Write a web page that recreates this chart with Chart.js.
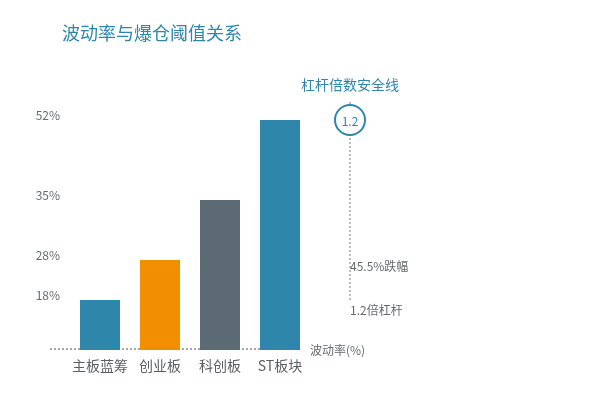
<!DOCTYPE html>
<html>
<head>
<meta charset="utf-8">
<script src="https://cdn.jsdelivr.net/npm/chart.js@4/dist/chart.umd.min.js"></script>
<style>
  html, body { margin: 0; padding: 0; background: #fff; }
  #wrap { width: 600px; height: 400px; }
</style>
</head>
<body>
<div id="wrap"><canvas id="c" width="600" height="400"></canvas></div>
<script>
// ---- data ----
const categories = ['主板蓝筹', '创业板', '科创板', 'ST板块'];
const volatility = [18, 28, 35, 52];          // 波动率 (%)
const yTickValues = [18, 28, 35, 52];
const barColors = ['#2e86ab', '#f18f01', '#5c6b73', '#2e86ab'];
const titleText = '波动率与爆仓阈值关系';
const xAxisName = '波动率(%)';
const leverageTitle = '杠杆倍数安全线';
const leverageValue = '1.2';
const dropLabel = '45.5%跌幅';
const leverageLabel = '1.2倍杠杆';

// visual (non-proportional) level of each stop on the value axis, as share of axis height
const axisStops = [0, 18, 28, 35, 52];
const axisLevels = [0, 0.2174, 0.3913, 0.6522, 1];

const FONT = '"Noto Sans CJK SC", "Noto Sans", sans-serif';
const TEAL = '#2e86ab';
const GRAY_TEXT = '#666a6e';

class SteppedScale extends Chart.LinearScale {
  _toDecimal(value) {
    const s = axisStops, f = axisLevels;
    let i = 0;
    while (i < s.length - 2 && value > s[i + 1]) i++;
    return f[i] + (value - s[i]) / (s[i + 1] - s[i]) * (f[i + 1] - f[i]);
  }
  getPixelForValue(value) {
    if (value === null || value === undefined || isNaN(value)) return NaN;
    return this.getPixelForDecimal(this._toDecimal(value));
  }
  getValueForPixel(pixel) {
    const d = this.getDecimalForPixel(pixel);
    const s = axisStops, f = axisLevels;
    let i = 0;
    while (i < f.length - 2 && d > f[i + 1]) i++;
    return s[i] + (d - f[i]) / (f[i + 1] - f[i]) * (s[i + 1] - s[i]);
  }
}
SteppedScale.id = 'stepped';
SteppedScale.defaults = {};
Chart.register(SteppedScale);

const decorPlugin = {
  id: 'decor',
  beforeDatasetsDraw(chart) {
    const { ctx, chartArea } = chart;
    ctx.save();
    // title
    ctx.fillStyle = TEAL;
    ctx.font = '18px ' + FONT;
    ctx.textAlign = 'left';
    ctx.textBaseline = 'middle';
    ctx.fillText(titleText, 62, 33);
    // dotted baseline
    ctx.strokeStyle = '#a6a6a6';
    ctx.lineWidth = 2;
    ctx.setLineDash([2, 2]);
    ctx.beginPath();
    ctx.moveTo(chartArea.left - 20, chartArea.bottom - 1);
    ctx.lineTo(chartArea.right - 10, chartArea.bottom - 1);
    ctx.stroke();
    ctx.restore();
  },
  afterDraw(chart) {
    const { ctx, chartArea } = chart;
    const y = chart.scales.y;
    const yTop = y.getPixelForValue(yTickValues[yTickValues.length - 1]);
    const yLow = y.getPixelForValue(yTickValues[0]);
    const cx = chartArea.right + 40;
    ctx.save();
    // dotted vertical line
    ctx.strokeStyle = '#a6a6a6';
    ctx.lineWidth = 1.5;
    ctx.setLineDash([2, 2]);
    ctx.beginPath();
    ctx.moveTo(cx, yTop - 18);
    ctx.lineTo(cx, yLow);
    ctx.stroke();
    ctx.setLineDash([]);
    // circle
    ctx.beginPath();
    ctx.arc(cx, yTop, 15, 0, Math.PI * 2);
    ctx.fillStyle = '#fff';
    ctx.fill();
    ctx.strokeStyle = TEAL;
    ctx.lineWidth = 2;
    ctx.stroke();
    ctx.fillStyle = TEAL;
    ctx.font = '12px ' + FONT;
    ctx.textAlign = 'center';
    ctx.textBaseline = 'middle';
    ctx.fillText(leverageValue, cx, yTop + 1);
    // heading
    ctx.font = '14px ' + FONT;
    ctx.fillText(leverageTitle, cx, yTop - 35);
    // side labels
    ctx.fillStyle = GRAY_TEXT;
    ctx.font = '12px ' + FONT;
    ctx.textAlign = 'left';
    ctx.fillText(dropLabel, cx, yLow - 34);
    ctx.fillText(leverageLabel, cx, yLow + 10);
    ctx.fillText(xAxisName, chartArea.right, chartArea.bottom);
    ctx.restore();
  }
};

new Chart(document.getElementById('c'), {
  type: 'bar',
  data: {
    labels: categories,
    datasets: [{
      data: volatility,
      backgroundColor: barColors,
      borderWidth: 0,
      barPercentage: 2 / 3,
      categoryPercentage: 1
    }]
  },
  options: {
    responsive: false,
    animation: false,
    layout: { padding: { left: 28, right: 290, top: 120, bottom: 0 } },
    plugins: {
      legend: { display: false },
      tooltip: { enabled: false },
      title: { display: false }
    },
    scales: {
      x: {
        grid: { display: false, drawTicks: false },
        border: { display: false },
        ticks: {
          color: '#5a5f63', font: { family: FONT, size: 14 }, padding: 7,
          maxRotation: 0, minRotation: 0, autoSkip: false
        },
        afterFit(s) { s.height = 50; }
      },
      y: {
        type: 'stepped',
        min: 0,
        max: 52,
        grid: { display: false, drawTicks: false },
        border: { display: false },
        ticks: {
          color: GRAY_TEXT,
          font: { family: FONT, size: 12 },
          padding: 10,
          labelOffset: -5,
          autoSkip: false,
          callback: v => v + '%'
        },
        afterBuildTicks(s) { s.ticks = yTickValues.map(v => ({ value: v })); },
        afterFit(s) { s.width = 42; }
      }
    }
  },
  plugins: [decorPlugin]
});
</script>
</body>
</html>
